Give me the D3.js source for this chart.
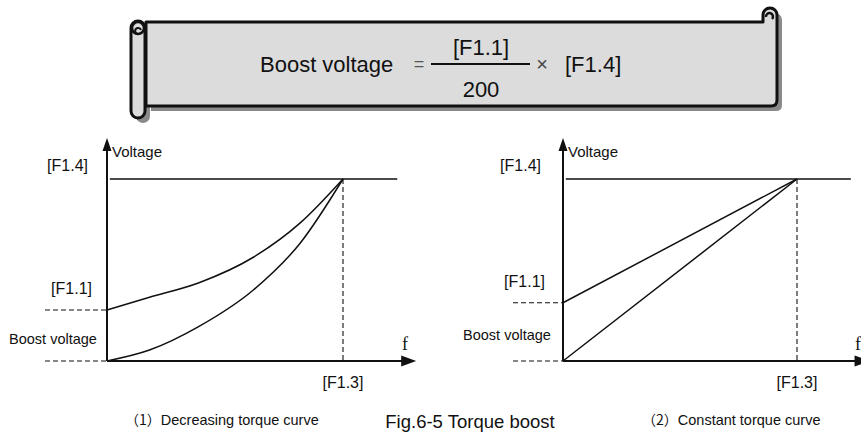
<!DOCTYPE html>
<html>
<head>
<meta charset="utf-8">
<script src="https://cdn.jsdelivr.net/npm/d3@7"></script>
<style>
  html, body { margin: 0; padding: 0; background: #fff; }
  svg { display: block; }
  text { font-family: "Liberation Sans", Arial, sans-serif; fill: #111; }
</style>
</head>
<body>
<svg id="fig" width="861" height="432"></svg>
<script>
// ---- Curve data (f as a fraction of [F1.3], V as a fraction of [F1.4]) ----
const decUpperF = [0, 0.18, 0.39, 0.62, 0.82, 1];
const decUpperV = [0.28, 0.35, 0.43, 0.57, 0.76, 1];
const decLowerF = [0, 0.18, 0.39, 0.62, 0.82, 1];
const decLowerV = [0, 0.06, 0.19, 0.39, 0.65, 1];
const conUpperF = [0, 1];
const conUpperV = [0.32, 1];
const conLowerF = [0, 1];
const conLowerV = [0, 1];
const boostLevels = [0.28, 0.32];

// ---- Text ----
const yTickLabels = ["[F1.4]", "[F1.1]", "Boost voltage"];
const xTickLabels = ["[F1.3]"];
const axisTitles = ["Voltage", "f"];
const captions = ["Decreasing torque curve", "Constant torque curve"];
const captionNums = ["（1）", "（2）"];
const figTitle = "Fig.6-5 Torque boost";
const formulaParts = ["Boost voltage", "=", "[F1.1]", "200", "×", "[F1.4]"];

const svg = d3.select("#fig");
svg.append("rect").attr("width", 861).attr("height", 432).attr("fill", "#fff");

// ---- Scroll banner holding the formula ----
const banner = svg.append("g");
const bodyPath = "M146,22 H763 V15 A7,7 0 0 1 777,15 V100 Q777,106 771,106 H146 Z";
const rollPath = "M131,28 A7,7 0 0 1 145,28 V111 A7,7 0 0 1 131,111 Z";
const shadow = banner.append("g").attr("transform", "translate(5,5)").attr("fill", "#8a8a8a");
shadow.append("path").attr("d", bodyPath);
shadow.append("path").attr("d", rollPath);
banner.append("path").attr("d", bodyPath)
  .attr("fill", "#dcdcdc").attr("stroke", "#111").attr("stroke-width", 3).attr("stroke-linejoin", "round");
banner.append("path").attr("d", "M766,17 A3.5,3.5 0 1 1 772,19")
  .attr("fill", "none").attr("stroke", "#111").attr("stroke-width", 2.5);
banner.append("path").attr("d", rollPath)
  .attr("fill", "#dcdcdc").attr("stroke", "#111").attr("stroke-width", 3);
banner.append("circle").attr("cx", 138).attr("cy", 28).attr("r", 6)
  .attr("fill", "none").attr("stroke", "#111").attr("stroke-width", 2.5);
banner.append("path").attr("d", "M138,34 A3,3 0 1 1 141,30")
  .attr("fill", "none").attr("stroke", "#111").attr("stroke-width", 2);

const fs = 22;
banner.append("text").attr("x", 260).attr("y", 72).attr("font-size", fs).text(formulaParts[0]);
banner.append("text").attr("x", 419).attr("y", 70).attr("font-size", 18).attr("text-anchor", "middle")
  .style("fill", "#555").text(formulaParts[1]);
banner.append("line").attr("x1", 431).attr("x2", 530).attr("y1", 64).attr("y2", 64)
  .attr("stroke", "#111").attr("stroke-width", 2.2);
banner.append("text").attr("x", 481).attr("y", 55).attr("font-size", fs).attr("text-anchor", "middle").text(formulaParts[2]);
banner.append("text").attr("x", 481).attr("y", 97).attr("font-size", fs).attr("text-anchor", "middle").text(formulaParts[3]);
banner.append("text").attr("x", 542).attr("y", 71).attr("font-size", 20).attr("text-anchor", "middle")
  .style("fill", "#444").text(formulaParts[4]);
banner.append("text").attr("x", 565).attr("y", 72).attr("font-size", fs).text(formulaParts[5]);

// ---- One V/f panel ----
function panel(opt) {
  const g = svg.append("g");
  const x = d3.scaleLinear().domain([0, 1]).range([opt.x0, opt.x1]);
  const y = d3.scaleLinear().domain([0, 1]).range([361, 179]);
  const fMax = 1.31, vMax = 1.225, fTop = 1.23;
  const ink = "#111";

  // dashed guides
  const dash = "5,3";
  g.append("line").attr("x1", x(1)).attr("x2", x(1)).attr("y1", y(1)).attr("y2", y(0))
    .attr("stroke", ink).attr("stroke-width", 1.1).attr("stroke-dasharray", dash);
  g.append("line").attr("x1", opt.dashStart).attr("x2", x(0)).attr("y1", y(opt.boost)).attr("y2", y(opt.boost))
    .attr("stroke", ink).attr("stroke-width", 1.1).attr("stroke-dasharray", dash);
  g.append("line").attr("x1", opt.dashStart).attr("x2", x(0)).attr("y1", y(0)).attr("y2", y(0))
    .attr("stroke", ink).attr("stroke-width", 1.1).attr("stroke-dasharray", dash);

  // rated-voltage ceiling
  g.append("line").attr("x1", x(0.012)).attr("x2", x(fTop)).attr("y1", y(1)).attr("y2", y(1))
    .attr("stroke", ink).attr("stroke-width", 1.5);

  // axes with arrowheads
  g.append("line").attr("x1", x(0)).attr("x2", x(fMax) - 12).attr("y1", y(0)).attr("y2", y(0))
    .attr("stroke", ink).attr("stroke-width", 2);
  g.append("line").attr("x1", x(0)).attr("x2", x(0)).attr("y1", y(0)).attr("y2", y(vMax) + 10)
    .attr("stroke", ink).attr("stroke-width", 2);
  const xt = x(fMax), yt = y(vMax);
  g.append("path").attr("d", `M${xt},${y(0)} L${xt - 15},${y(0) - 5.5} L${xt - 15},${y(0) + 5.5} Z`).attr("fill", ink);
  g.append("path").attr("d", `M${x(0)},${yt} L${x(0) - 4.5},${yt + 13} L${x(0) + 4.5},${yt + 13} Z`).attr("fill", ink);

  // curves
  const line = d3.line().x(d => x(d[0])).y(d => y(d[1])).curve(opt.curve);
  opt.series.forEach(s => {
    g.append("path").datum(d3.zip(s[0], s[1])).attr("d", line)
      .attr("fill", "none").attr("stroke", ink).attr("stroke-width", 1.5);
  });

  // labels
  g.append("text").attr("x", x(0) + 5).attr("y", 157).attr("font-size", 15).text(axisTitles[0]);
  g.append("text").attr("x", opt.labelRight).attr("y", 171).attr("font-size", 16).attr("text-anchor", "end").text(yTickLabels[0]);
  g.append("text").attr("x", opt.labelRight + 4).attr("y", y(opt.boost) - 16).attr("font-size", 16).attr("text-anchor", "end").text(yTickLabels[1]);
  g.append("text").attr("x", opt.bvCenter).attr("y", y(opt.boost / 2) + 8).attr("font-size", 14.5).attr("text-anchor", "middle").text(yTickLabels[2]);
  g.append("text").attr("x", x(1)).attr("y", 388).attr("font-size", 16).attr("text-anchor", "middle").text(xTickLabels[0]);
  g.append("text").attr("x", opt.fx).attr("y", 350).attr("font-size", 18)
    .style("font-family", "'Liberation Serif', 'DejaVu Serif', serif").text(axisTitles[1]);

  const cap = g.append("text").attr("x", opt.capX).attr("y", 425).attr("font-size", 14.5);
  cap.append("tspan").style("font-family", "'Noto Sans CJK SC', 'Liberation Serif', serif").attr("font-size", 14).text(opt.num);
  cap.append("tspan").text(opt.caption);
}

panel({
  x0: 107, x1: 343, boost: boostLevels[0], dashStart: 45, labelRight: 88, bvCenter: 53,
  fx: 402, capX: 125, num: captionNums[0], caption: captions[0], curve: d3.curveMonotoneX,
  series: [[decUpperF, decUpperV], [decLowerF, decLowerV]]
});
panel({
  x0: 563, x1: 797, boost: boostLevels[1], dashStart: 513, labelRight: 541, bvCenter: 507,
  fx: 855, capX: 642, num: captionNums[1], caption: captions[1], curve: d3.curveLinear,
  series: [[conUpperF, conUpperV], [conLowerF, conLowerV]]
});

svg.append("text").attr("x", 470).attr("y", 428).attr("font-size", 18.5).attr("text-anchor", "middle").text(figTitle);
</script>
</body>
</html>
